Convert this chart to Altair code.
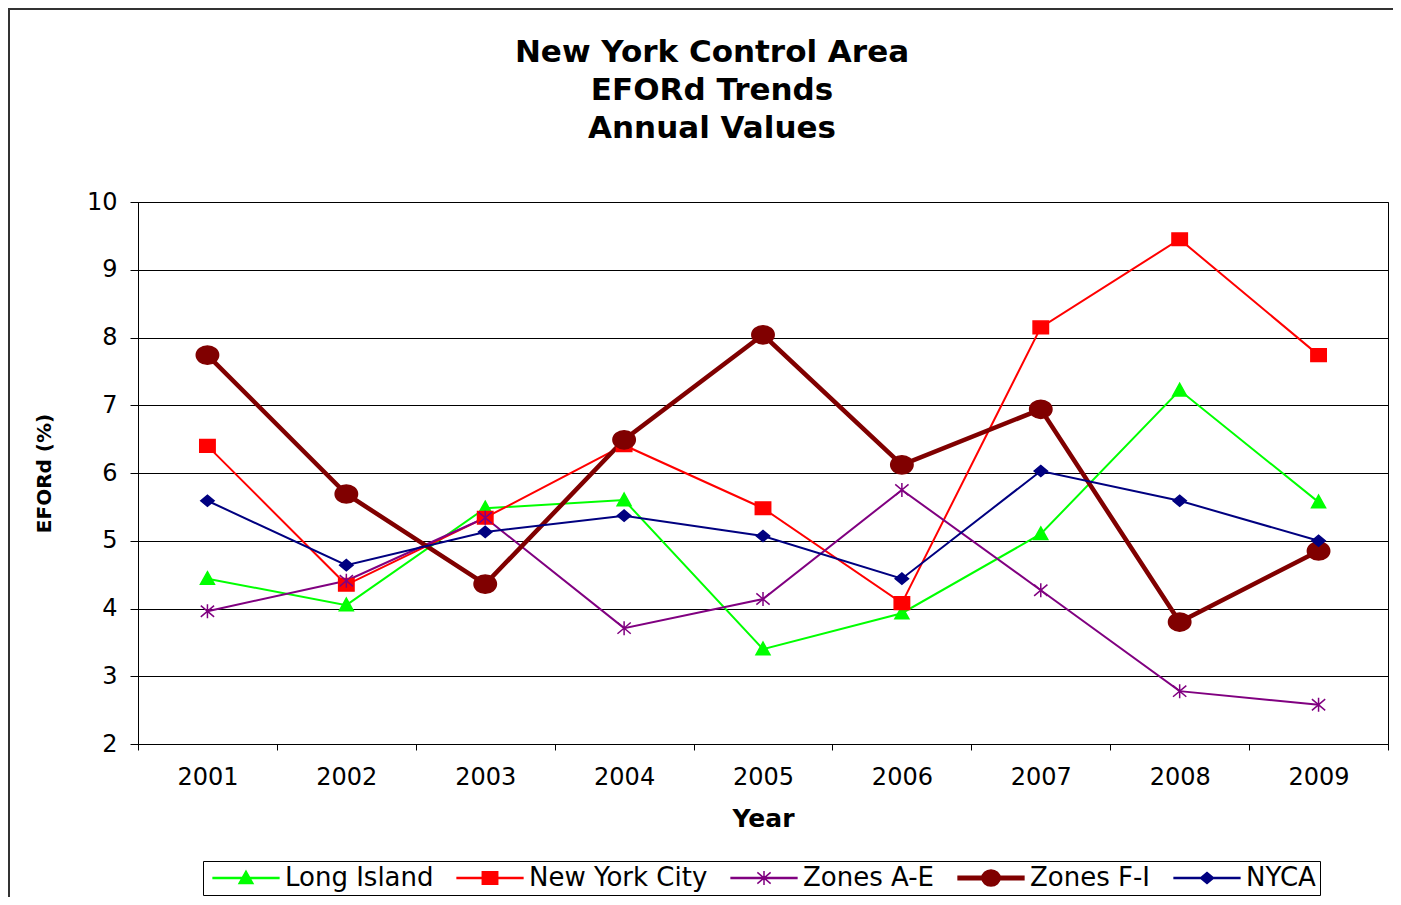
import altair as alt
import pandas as pd

years = ["2001", "2002", "2003", "2004", "2005", "2006", "2007", "2008", "2009"]
series = ["Long Island", "New York City", "Zones A-E", "Zones F-I", "NYCA"]
long_island = [4.44, 4.05, 5.48, 5.60, 3.40, 3.93, 5.10, 7.22, 5.57]
new_york_city = [6.40, 4.35, 5.34, 6.41, 5.48, 4.08, 8.15, 9.45, 7.74]
zones_a_e = [3.96, 4.41, 5.34, 3.71, 4.14, 5.75, 4.27, 2.78, 2.58]
zones_f_i = [7.74, 5.69, 4.36, 6.49, 8.04, 6.12, 6.94, 3.80, 4.85]
nyca = [5.59, 4.64, 5.13, 5.37, 5.07, 4.44, 6.03, 5.59, 5.00]
y_ticks = [2, 3, 4, 5, 6, 7, 8, 9, 10]
title_lines = ["New York Control Area", "EFORd Trends", "Annual Values"]

# styles
colors = ["#00FF00", "#FF0000", "#800080", "#800000", "#000080"]
widths = [2, 2, 2, 4.5, 2]
markers = [
    "M0,-1L1,0.8L-1,0.8Z",
    "M-1.1,-0.9H1.1V0.9H-1.1Z",
    "M-0.95,-0.8L0.95,0.8M-0.95,0.8L0.95,-0.8M0,-1V1",
    "M-1.6,0A1.6,1.3 0 1,1 1.6,0A1.6,1.3 0 1,1 -1.6,0Z",
    "M-0.95,0L0,-0.8L0.95,0L0,0.8Z",
]
thin_line = "M-4.7,-0.07H4.7V0.07H-4.7Z"
thick_line = "M-4.7,-0.25H4.7V0.25H-4.7Z"
legend_markers = [
    thin_line + markers[0],
    thin_line + markers[1],
    thin_line + markers[2],
    thick_line + "M-1.3,0A1.3,1.15 0 1,1 1.3,0A1.3,1.15 0 1,1 -1.3,0Z",
    thin_line + markers[4],
]

values = [long_island, new_york_city, zones_a_e, zones_f_i, nyca]
rows = []
for s, vals in zip(series, values):
    for yr, v in zip(years, vals):
        rows.append({"Year": yr, "Series": s, "EFORd": v})
df = pd.DataFrame(rows)

FONT = "DejaVu Sans"

x = alt.X(
    "Year:O",
    title="Year",
    bandPosition=0.5,
    scale=alt.Scale(type="band", paddingInner=0, paddingOuter=0),
    axis=alt.Axis(tickBand="extent", labelAngle=0, tickSize=6, labelPadding=15,
                  titleFontSize=25, titlePadding=17, grid=False),
)
y = alt.Y(
    "EFORd:Q",
    title="EFORd (%)",
    scale=alt.Scale(domain=[2, 10], nice=False, zero=False),
    axis=alt.Axis(values=y_ticks, tickSize=8, labelPadding=13, titleFontSize=20,
                  titlePadding=32, grid=True, gridColor="#000000", gridWidth=1),
)

color_scale = alt.Scale(domain=series, range=colors)
width_scale = alt.Scale(type="ordinal", domain=series, range=widths)

base = alt.Chart(df)

lines = base.mark_line().encode(
    x=x, y=y,
    color=alt.Color("Series:N", scale=color_scale, legend=None),
    strokeWidth=alt.StrokeWidth("Series:N", scale=width_scale, legend=None),
)

points = base.mark_point(filled=True, size=196, strokeWidth=1.5, opacity=1).encode(
    x=x, y=y,
    color=alt.Color("Series:N", scale=color_scale, legend=None),
    stroke=alt.Stroke("Series:N", scale=color_scale, legend=None),
    shape=alt.Shape("Series:N", scale=alt.Scale(domain=series, range=markers), legend=None),
)

leg = alt.Legend(
    title=None, orient="none", legendX=65, legendY=659, direction="horizontal",
    strokeColor="black", padding=4, labelFont=FONT, labelFontSize=26,
    labelColor="black", symbolOffset=26, labelOffset=26, columnPadding=17,
    symbolSize=196, labelLimit=500,
)

legend_layer = base.transform_filter("false").mark_point(
    filled=True, size=196, opacity=1, strokeWidth=1
).encode(
    color=alt.Color("Series:N", scale=color_scale, legend=leg),
    stroke=alt.Stroke("Series:N", scale=color_scale, legend=leg),
    shape=alt.Shape("Series:N", scale=alt.Scale(domain=series, range=legend_markers), legend=leg),
)

one = pd.DataFrame({"k": [0]})

frame = alt.Chart(one).mark_rect(
    fillOpacity=0, stroke="#333333", strokeWidth=2, clip=False
).encode(x=alt.value(-129), x2=alt.value(1400), y=alt.value(-193), y2=alt.value(900))

title = alt.Chart(one).mark_text(
    font=FONT, fontSize=31, fontWeight="bold", lineHeight=38, align="center",
    baseline="middle", color="black",
).encode(x=alt.value(574), y=alt.value(-149), text=alt.value(title_lines))

chart = alt.layer(frame, title, lines, points, legend_layer).resolve_scale(
    color="independent", shape="independent", stroke="independent", strokeWidth="independent"
).properties(
    width=1250, height=542,
    autosize=alt.AutoSizeParams(type="none"),
    padding={"left": 130, "top": 194, "right": 5, "bottom": 153},
).configure_view(stroke="black", strokeWidth=1).configure_axis(
    domainColor="black", tickColor="black", labelFont=FONT, labelFontSize=24,
    labelColor="black", titleFont=FONT, titleFontWeight="bold", titleColor="black",
)

chart.save("out.html", embed_options={"renderer": "svg", "actions": False})
